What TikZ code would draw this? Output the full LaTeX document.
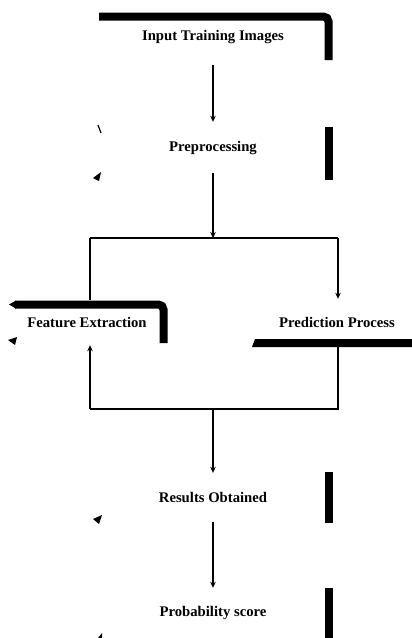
\documentclass[tikz,border=0pt]{standalone}
\usepackage{fontspec}
\setmainfont{Liberation Serif}
\usetikzlibrary{arrows.meta,calc}

\tikzset{
  stagebox/.style={font=\bfseries\fontsize{14.7}{17}\selectfont, inner sep=0pt,
                   minimum width=230pt},
  flow/.style={line width=1.3pt, -{Stealth[length=6pt,width=5.5pt]}},
  link/.style={line width=1.3pt},
  shadowbar/.style={line width=8pt, rounded corners=5pt},
  edgebar/.style={line width=8pt},
  speck/.style={fill=black}
}

\begin{document}
\begin{tikzpicture}[x=1pt, y=-1pt]
      \useasboundingbox (0,0) rectangle (412,638);
      % stages
      \node[stagebox, minimum height=55pt] (input) at (213,37.5) {Input Training Images};
      \node[stagebox, minimum height=46pt] (pre) at (213,148) {Preprocessing};
      \node[stagebox, minimum width=150pt, minimum height=43pt] (feat) at (87,322) {Feature Extraction};
      \node[stagebox, minimum width=160pt, minimum height=40pt] (pred) at (337,322) {Prediction Process};
      \node[stagebox, minimum height=48pt] (res) at (213,497) {Results Obtained};
      \node[stagebox, minimum height=50pt] (prob) at (213,613) {Probability score};
      % split and merge points
      \coordinate (split) at (213,238);
      \coordinate (splitL) at (90,238);
      \coordinate (splitR) at (338,238);
      \coordinate (merge) at (213,409);
      \coordinate (mergeL) at (90,409);
      \coordinate (mergeR) at (338,409);
      % connectors
      \draw[flow, shorten >=3pt] (input) -- (pre);
      \draw[flow, shorten <=2pt] (pre) -- (split);
      \draw[link] (splitL) -- (splitR);
      \draw[link] (splitL) -- (splitL |- feat.north);
      \draw[flow, shorten >=3pt] (splitR) -- (splitR |- pred.north);
      \draw[link] (splitR |- pred.south) -- (mergeR) -- (mergeL);
      \draw[flow, shorten >=1.5pt] (mergeL) -- (mergeL |- feat.south);
      \draw[flow] (merge) -- (res);
      \draw[flow, shorten <=1pt] (res) -- (prob);
      % broken shadow pieces
      \draw[shadowbar] (99,16.5) -- (328.5,16.5) -- (328.5,60);
      \draw[edgebar] (329,127) -- (329,180);
      \draw[edgebar] (329,472) -- (329,523);
      \draw[edgebar] (329,588) -- (329,640);
      \draw[shadowbar] (15,304.5) -- (163.5,304.5) -- (163.5,343);
      \fill[speck] (9,304.5) -- (16,300.5) -- (16,308.5) -- cycle;
      \fill[speck] (255,339) -- (414,339) -- (414,347) -- (252,347) -- cycle;
      \draw[line width=1.2pt] (98,125) -- (101,133);
      \fill[speck] (93,178) -- (101,172) -- (99,181) -- cycle;
      \fill[speck] (8,340) -- (17,337) -- (15,345) -- cycle;
      \fill[speck] (93,519) -- (102,515) -- (99,524) -- cycle;
      \fill[speck] (98,638) -- (102,633) -- (102,638) -- cycle;
    \end{tikzpicture}
\end{document}
